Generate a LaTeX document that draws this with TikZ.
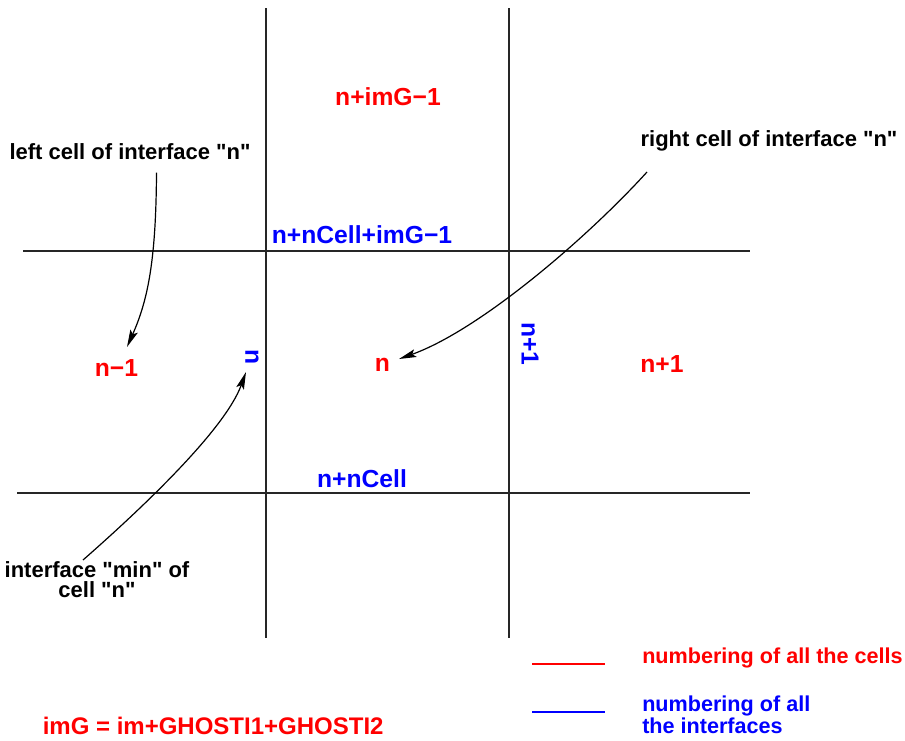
\documentclass[tikz,border=0pt]{standalone}
\usepackage{fontspec}
\newfontfamily\hv{Liberation Sans}
\usetikzlibrary{arrows.meta}
\definecolor{legR}{RGB}{255,0,0}
\definecolor{legB}{RGB}{0,0,255}
\tikzset{
  gridline/.style={line width=1.1pt, draw=black!85},
  cellnum/.style={text=red, font=\hv\bfseries\fontsize{18.5}{20}\selectfont, inner sep=0pt},
  facenum/.style={text=blue, font=\hv\bfseries\fontsize{18.5}{20}\selectfont, inner sep=0pt},
  formulastyle/.style={text=red, font=\hv\bfseries\fontsize{18}{20}\selectfont, inner sep=0pt},
  note/.style={text=black, font=\hv\bfseries\fontsize{16.5}{15}\selectfont, inner sep=0pt},
  legred/.style={text=red, font=\hv\bfseries\fontsize{16.2}{16.5}\selectfont, inner sep=0pt},
  legblue/.style={text=blue, font=\hv\bfseries\fontsize{16.2}{16.5}\selectfont, inner sep=0pt},
  pointer/.style={line width=0.9pt, -{Stealth[length=13pt,width=6pt,inset=2.5pt]}},
}
\begin{document}
\begin{tikzpicture}[x=0.75pt,y=-0.75pt]
\useasboundingbox (0,0) rectangle (905,740);
% grid lines
\draw[gridline] (266,8) coordinate (v1t) -- (266,638) coordinate (v1b);
\draw[gridline] (509,8) coordinate (v2t) -- (509,638) coordinate (v2b);
\draw[gridline] (23,251) coordinate (h1l) -- (750,251) coordinate (h1r);
\draw[gridline] (17,493) coordinate (h2l) -- (750,493) coordinate (h2r);
% cell numbers (red)
\node[cellnum, anchor=base] (ctop) at (388,105) {n+imG−1};
\node[cellnum, anchor=base] (cleft) at (116.5,376.5) {n−1};
\node[cellnum, anchor=base] (cmid) at (382.5,371.5) {n};
\node[cellnum, anchor=base] (cright) at (662,372.5) {n+1};
% interface numbers (blue)
\node[facenum, anchor=base] (ftop) at (362,243) {n+nCell+imG−1};
\node[facenum, anchor=base] (fbot) at (362,487.5) {n+nCell};
\node[facenum, rotate=-90] (fleft) at (252,357) {n};
\node[facenum, rotate=-90] (fright) at (530,344) {n+1};
% annotations
\node[note, anchor=base] (lnote) at (130,159) {left cell of interface "n"};
\node[note, anchor=base] (rnote) at (769,146.5) {right cell of interface "n"};
\node[note, anchor=base, align=center] (bnote) at (97,597) {interface "min" of\\cell "n"};
% arrows
\coordinate (a1s) at (156.5,172.5);
\coordinate (a1e) at (127,347);
\draw[pointer] (a1s) .. controls (156,260) and (148,300) .. (a1e);
\coordinate (a2s) at (647,172);
\coordinate (a2e) at (399,359);
\draw[pointer] (a2s) .. controls (587,238) and (480,330) .. (a2e);
\coordinate (a3s) at (83,560);
\coordinate (a3e) at (246,372);
\draw[pointer] (a3s) .. controls (140,510) and (225,430) .. (a3e);
% legend
\coordinate (lr1) at (532,662.5);
\coordinate (lr2) at (605,664.5);
\fill[legR] (lr1) rectangle (lr2);
\coordinate (lb1) at (532,710.5);
\coordinate (lb2) at (605,712.5);
\fill[legB] (lb1) rectangle (lb2);
\node[legred, anchor=base west] (legc) at (642,663) {numbering of all the cells};
\node[legblue, anchor=base west, align=left] (legf) at (642,733) {numbering of all\\the interfaces};
\node[formulastyle, anchor=base west] (formula) at (42.5,734) {imG = im+GHOSTI1+GHOSTI2};
\end{tikzpicture}
\end{document}
